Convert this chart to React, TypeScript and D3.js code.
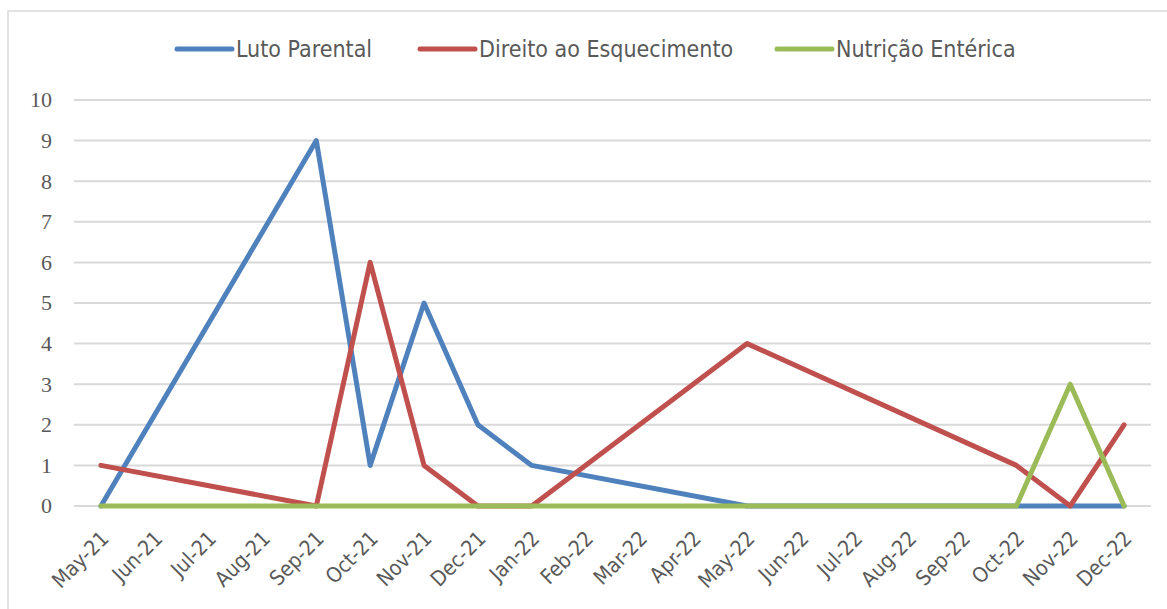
import React from "react";
import * as d3 from "d3";

const months = ["May-21","Jun-21","Jul-21","Aug-21","Sep-21","Oct-21","Nov-21","Dec-21","Jan-22","Feb-22","Mar-22","Apr-22","May-22","Jun-22","Jul-22","Aug-22","Sep-22","Oct-22","Nov-22","Dec-22"];
const lutoParental: (number | null)[] = [0,null,null,null,9,1,5,2,1,null,null,null,0,null,null,null,null,0,0,0];
const direitoEsquecimento: (number | null)[] = [1,null,null,null,0,6,1,0,0,null,null,null,4,null,null,null,null,1,0,2];
const nutricaoEnterica: (number | null)[] = [0,null,null,null,0,0,0,0,0,null,null,null,0,null,null,null,null,0,3,0];
const yTicks = [0,1,2,3,4,5,6,7,8,9,10];

const series = [
  { name: "Luto Parental", values: lutoParental, color: "#4f81bd" },
  { name: "Direito ao Esquecimento", values: direitoEsquecimento, color: "#c0504d" },
  { name: "Nutrição Entérica", values: nutricaoEnterica, color: "#9bbb59" },
];
const legendX = [177, 420, 777];

export default function App() {
  const W = 1167, H = 609;
  const x = d3.scaleBand<string>().domain(months).range([74, 1151]);
  const y = d3.scaleLinear().domain([0, 10]).range([506, 100]);
  const cx = (m: string) => (x(m) as number) + x.bandwidth() / 2;
  const line = d3
    .line<{ m: string; v: number }>()
    .x((d) => cx(d.m))
    .y((d) => y(d.v));
  const sans = "'DejaVu Sans Condensed', 'DejaVu Sans', sans-serif";
  return (
    <svg width={W} height={H} style={{ position: "absolute", left: 0, top: 0, background: "#fff" }}>
      <rect x={8} y={11} width={W + 10} height={H + 10} fill="#fff" stroke="#d9d9d9" strokeWidth={1.5} />
      {yTicks.map((t) => (
        <g key={t}>
          <line x1={74} x2={1151} y1={y(t)} y2={y(t)} stroke="#d9d9d9" strokeWidth={2} />
          <text x={52} y={y(t)} dy="0.34em" textAnchor="end" fontFamily="'Liberation Serif', serif" fontSize={22} fill="#595959">
            {t}
          </text>
        </g>
      ))}
      {months.map((m) => (
        <text
          key={m}
          transform={`translate(${cx(m) + 9},${540}) rotate(-45)`}
          textAnchor="end"
          fontFamily={sans}
          fontSize={21}
          fill="#595959"
        >
          {m}
        </text>
      ))}
      {series.map((s) => {
        const pts = months
          .map((m, i) => ({ m, v: s.values[i] }))
          .filter((d) => d.v !== null) as { m: string; v: number }[];
        return (
          <path
            key={s.name}
            d={line(pts) || ""}
            fill="none"
            stroke={s.color}
            strokeWidth={5}
            strokeLinejoin="round"
            strokeLinecap="round"
          />
        );
      })}
      {series.map((s, i) => (
        <g key={s.name}>
          <line x1={legendX[i]} x2={legendX[i] + 55} y1={49} y2={49} stroke={s.color} strokeWidth={5} strokeLinecap="round" />
          <text x={legendX[i] + 59} y={49} dy="0.36em" fontFamily={sans} fontSize={23} fill="#595959">
            {s.name}
          </text>
        </g>
      ))}
    </svg>
  );
}
